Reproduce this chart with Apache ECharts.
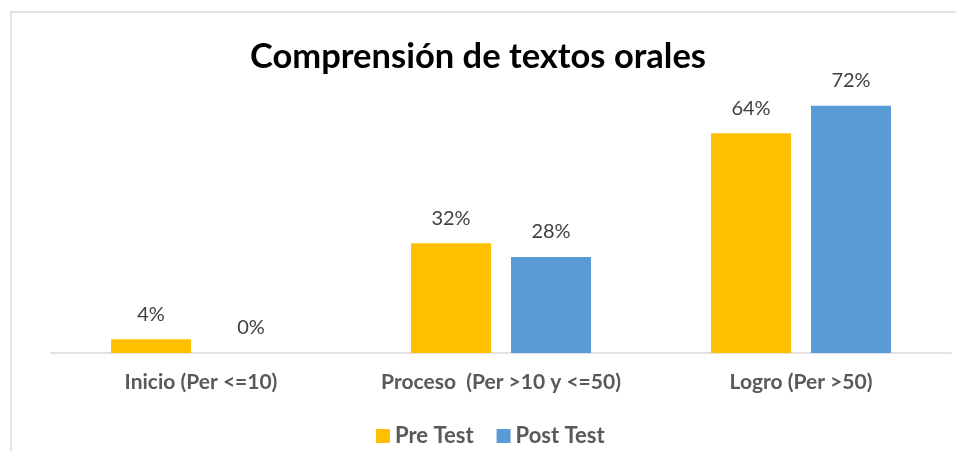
<!DOCTYPE html>
<html>
<head>
<meta charset="utf-8">
<script src="https://cdn.jsdelivr.net/npm/echarts@6/dist/echarts.min.js"></script>
<style>
  html, body { margin: 0; padding: 0; background: #fff; }
  #main { width: 956px; height: 451px; }
</style>
</head>
<body>
<div id="main"></div>
<script>
const categories = ['Inicio (Per <=10)', 'Proceso  (Per >10 y <=50)', 'Logro (Per >50)']
const preTest = [4, 32, 64]
const postTest = [0, 28, 72]

const chart = echarts.init(document.getElementById('main'))

const labelStyle = {
  show: true,
  position: 'top',
  distance: 15,
  color: '#404040',
  fontFamily: 'Lato',
  fontSize: 20,
  formatter: p => p.value + '%'
}

chart.setOption({
  animation: false,
  title: {
    text: 'Comprensión de textos orales',
    left: 'center',
    top: 34,
    textStyle: {
      color: '#000',
      fontFamily: 'Lato',
      fontWeight: 'bold',
      fontSize: 34.5
    }
  },
  // chart frame (only left and top edges show in the picture)
  graphic: [{
    type: 'polyline',
    shape: { points: [[11, 460], [11, 12], [960, 12]] },
    style: { stroke: '#d9d9d9', lineWidth: 1.5, fill: null }
  }],
  legend: {
    bottom: 4,
    left: 376,
    padding: 0,
    itemWidth: 14,
    itemHeight: 14,
    itemGap: 23,
    icon: 'rect',
    textStyle: {
      color: '#595959',
      fontFamily: 'Lato',
      fontWeight: 'bold',
      fontSize: 22
    },
    data: ['Pre Test', 'Post Test']
  },
  grid: {
    left: 51,
    right: 5,
    top: 78.4,
    bottom: 98,
    containLabel: false
  },
  xAxis: {
    type: 'category',
    data: categories,
    axisTick: { show: false },
    axisLine: { lineStyle: { color: '#d9d9d9', width: 1.5 } },
    axisLabel: {
      interval: 0,
      margin: 19,
      color: '#595959',
      fontFamily: 'Lato',
      fontWeight: 'bold',
      fontSize: 21
    }
  },
  yAxis: {
    type: 'value',
    min: 0,
    max: 80,
    show: false
  },
  series: [{
    name: 'Pre Test',
    type: 'bar',
    data: preTest,
    barWidth: 80,
    barGap: '25%',
    itemStyle: { color: '#FFC000' },
    label: labelStyle
  }, {
    name: 'Post Test',
    type: 'bar',
    data: postTest,
    barWidth: 80,
    itemStyle: { color: '#5B9BD5' },
    label: labelStyle
  }]
})
</script>
</body>
</html>
